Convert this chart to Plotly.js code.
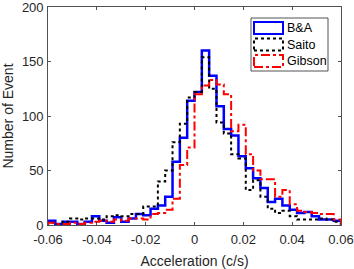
<!DOCTYPE html>
<html>
<head>
<meta charset="utf-8">
<script src="https://cdn.plot.ly/plotly-3.0.1.min.js"></script>
<style>html,body{margin:0;padding:0;background:#fff;}#chart{width:354px;height:269px;}</style>
</head>
<body>
<div id="chart"></div>
<script>
// Histogram bins: 40 bins of width 0.003 from -0.06 to 0.06
const binStart = -0.06;
const binWidth = 0.003;
const seriesNames = ["B&A", "Saito", "Gibson"];
const countsBA = [4, 1, 3, 3, 1, 3, 8, 4, 2, 7, 3, 6, 10, 9, 15, 18, 26, 58, 80, 114,
                  122, 160, 137, 109, 88, 82, 63, 52, 43, 34, 21, 24, 18, 14, 11, 12, 8, 5, 5, 4];
const countsSaito = [2, 1, 3, 6, 5, 6, 6, 5, 8, 9, 8, 10, 10, 17, 17, 40, 50, 76, 93, 117,
                     122, 154, 125, 94, 84, 65, 61, 32, 41, 26, 15, 11, 13, 8, 5, 5, 5, 6, 5, 3];
const countsGibson = [2, 1, 1, 2, 1, 2, 3, 4, 3, 5, 4, 6, 6, 5, 10, 11, 14, 24, 55, 71,
                      120, 128, 133, 129, 120, 86, 92, 65, 50, 42, 42, 26, 32, 19, 13, 12, 11, 10, 10, 5];
const xTickVals = [-0.06, -0.04, -0.02, 0, 0.02, 0.04, 0.06];
const xTickText = ["-0.06", "-0.04", "-0.02", "0", "0.02", "0.04", "0.06"];
const yTickVals = [0, 50, 100, 150, 200];

function stairs(counts) {
  const edges = counts.map((_, i) => binStart + i * binWidth);
  const xEnd = binStart + counts.length * binWidth;
  const x = [edges[0]].concat(edges, [xEnd]);
  const y = [0].concat(counts, [0]);
  return {x, y};
}

const styles = [
  {color: "#0000ff", width: 2.5, dash: "solid"},
  {color: "#000000", width: 2, dash: "dot"},
  {color: "#ff0000", width: 2, dash: "dashdot"}
];
const allCounts = [countsBA, countsSaito, countsGibson];

const traces = allCounts.map((c, i) => {
  const s = stairs(c);
  return {
    type: "scatter", mode: "lines", name: seriesNames[i],
    x: s.x, y: s.y,
    line: {shape: "hv", color: styles[i].color, width: styles[i].width, dash: styles[i].dash},
    showlegend: false, hoverinfo: "skip"
  };
});

// plot area in pixels (for the custom legend placement)
const PL = 48, PR = 341, PT = 7, PB = 225;
const px = v => (v - PL) / (PR - PL);
const py = v => (PB - v) / (PB - PT);

// Custom legend (MATLAB-like rectangular outline icons)
const shapes = [{
  type: "rect", xref: "paper", yref: "paper",
  x0: px(251), x1: px(328), y0: py(71), y1: py(18),
  line: {color: "#262626", width: 0.8}, fillcolor: "#ffffff", layer: "above"
}];
const annotations = [];
const iconTops = [22, 38.5, 55];
seriesNames.forEach((n, i) => {
  shapes.push({
    type: "rect", xref: "paper", yref: "paper",
    x0: px(254), x1: px(283), y0: py(iconTops[i] + 12), y1: py(iconTops[i]),
    line: {color: styles[i].color, width: 2, dash: styles[i].dash},
    fillcolor: "rgba(0,0,0,0)", layer: "above"
  });
  annotations.push({
    xref: "paper", yref: "paper",
    x: px(285), y: py(iconTops[i] + 6),
    xanchor: "left", yanchor: "middle", showarrow: false,
    text: n, font: {family: "Liberation Sans, Arial, sans-serif", size: 12.5, color: "#000000"}
  });
});

const axisCommon = {
  showline: true, linecolor: "#262626", linewidth: 0.8, mirror: "ticks",
  ticks: "inside", ticklen: 3, tickwidth: 0.8, tickcolor: "#262626",
  showgrid: false, zeroline: false, automargin: false,
  ticklabeloverflow: "allow",
  tickfont: {family: "Liberation Sans, Arial, sans-serif", size: 13, color: "#262626"}
};

const layout = {
  width: 354, height: 269,
  margin: {l: PL, r: 354 - PR, t: PT, b: 269 - PB, pad: 0},
  paper_bgcolor: "#ffffff", plot_bgcolor: "#ffffff",
  showlegend: false,
  xaxis: Object.assign({}, axisCommon, {
    range: [-0.06, 0.06], tickvals: xTickVals, ticktext: xTickText,
    ticklabelstandoff: 3,
    title: {text: "Acceleration (c/s)", standoff: 12,
            font: {family: "Liberation Sans, Arial, sans-serif", size: 14, color: "#262626"}}
  }),
  yaxis: Object.assign({}, axisCommon, {
    range: [0, 200], tickvals: yTickVals,
    ticklabelstandoff: 1,
    title: {text: "Number of Event", standoff: 6,
            font: {family: "Liberation Sans, Arial, sans-serif", size: 14, color: "#262626"}}
  }),
  shapes: shapes,
  annotations: annotations
};

Plotly.newPlot("chart", traces, layout, {staticPlot: true, displayModeBar: false});
</script>
</body>
</html>
